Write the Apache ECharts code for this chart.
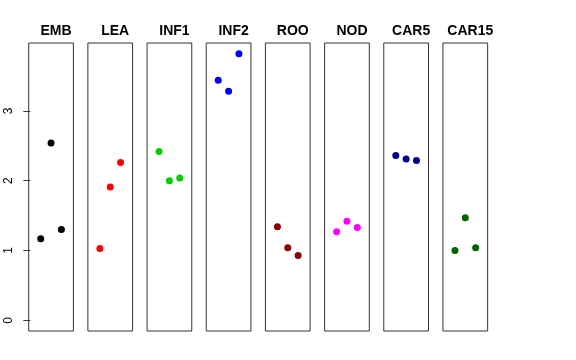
<!DOCTYPE html>
<html><head><meta charset="utf-8">
<script src="https://cdn.jsdelivr.net/npm/echarts@6/dist/echarts.min.js"></script>
<style>html,body{margin:0;padding:0;background:#fff}#c{width:576px;height:360px}</style>
</head><body><div id="c"></div>
<script>
const panels = ["EMB","LEA","INF1","INF2","ROO","NOD","CAR5","CAR15"];
const colors = ["#000000","#FF0000","#00CD00","#0000FF","#8B0000","#FF00FF","#00008B","#006400"];
const EMB = [1.17, 2.54, 1.30];
const LEA = [1.03, 1.91, 2.26];
const INF1 = [2.42, 2.00, 2.04];
const INF2 = [3.44, 3.28, 3.82];
const ROO = [1.34, 1.04, 0.93];
const NOD = [1.27, 1.42, 1.33];
const CAR5 = [2.36, 2.31, 2.29];
const CAR15 = [1.00, 1.47, 1.04];
const values = [EMB, LEA, INF1, INF2, ROO, NOD, CAR5, CAR15];
const yTicks = [0, 1, 2, 3];

const chart = echarts.init(document.getElementById('c'), null, {renderer:'canvas'});
const grids = [], xAxes = [], yAxes = [], series = [], titles = [];
const ymax = 3.82, ypad = ymax * 0.04;
panels.forEach((name, i) => {
  const left = 28.7 + i * 59.18, width = 44.7;
  grids.push({left: left, top: 43, width: width, height: 288, show: true, borderColor: '#333', borderWidth: 1, backgroundColor: 'transparent'});
  xAxes.push({type: 'value', gridIndex: i, min: -0.16, max: 4.16, show: false});
  yAxes.push({
    type: 'value', gridIndex: i, min: -ypad, max: ymax + ypad, interval: 1,
    show: i === 0,
    axisLine: {show: false},
    splitLine: {show: false},
    axisTick: {show: true, length: 7, lineStyle: {color: '#333'}, customValues: yTicks},
    axisLabel: {show: true, rotate: 90, fontSize: 12, color: '#000', fontFamily: 'Liberation Sans, Arial, sans-serif', margin: 14, customValues: yTicks, formatter: v => String(v)}
  });
  series.push({
    type: 'scatter', xAxisIndex: i, yAxisIndex: i, symbolSize: 7,
    itemStyle: {color: colors[i], opacity: 1},
    data: values[i].map((v, k) => [k + 1, v]),
    silent: true, animation: false
  });
  titles.push({text: name, left: left + width / 2, top: 19, textAlign: 'center',
    textStyle: {fontSize: 14, fontWeight: 'bold', color: '#000', fontFamily: 'Liberation Sans, Arial, sans-serif'}});
});
chart.setOption({animation: false, title: titles, grid: grids, xAxis: xAxes, yAxis: yAxes, series: series});
</script></body></html>
